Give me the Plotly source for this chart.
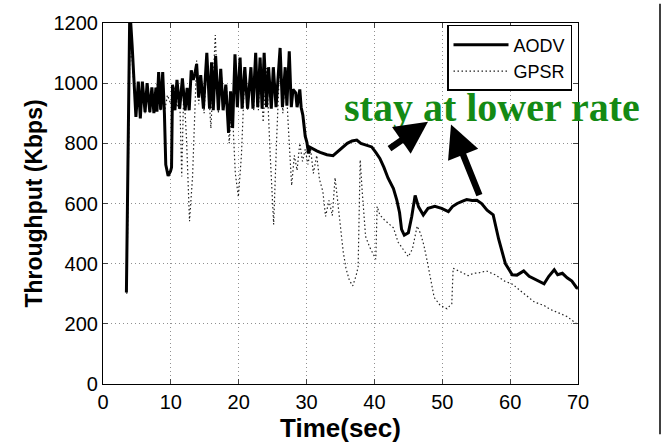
import plotly.graph_objects as go

# ---- data ----
aodv_t = [3.45, 3.95, 4.3, 4.85, 5.2, 5.5, 5.8, 6.2, 6.5, 6.9, 7.2, 7.5, 7.8, 7.95, 8.2, 8.5, 8.8, 9.05,
          9.25, 9.6, 9.95, 10.1, 10.25, 10.6, 10.9, 11.3, 11.7, 12.1, 12.4, 12.7, 13.0, 13.3, 13.55, 13.8,
          14.1, 14.4, 14.8, 15.3, 15.7, 16.0, 16.25, 16.6, 17.0, 17.35, 17.7, 18.1, 18.5, 18.8, 19.1,
          19.45, 19.8, 20.2, 20.5, 20.9, 21.3, 21.8, 22.1, 22.5, 22.8, 23.15, 23.45, 23.75, 24.1, 24.4,
          24.8, 25.1, 25.5, 25.8, 26.1, 26.45, 26.85, 27.1, 27.45, 27.75, 28.0, 28.4, 28.6, 29.0, 29.2,
          29.45, 29.8, 30.05, 30.3, 30.5, 31.0, 31.5, 32.0, 32.5, 33.0, 33.9, 34.5, 35.2, 36.0, 36.7,
          37.4, 38.0, 38.6, 39.2, 39.6, 40.2, 40.8, 41.4, 42.0, 42.8, 43.3, 43.7, 44.0, 44.4, 45.0,
          45.5, 46.0, 46.5, 47.2, 47.9, 48.9, 49.9, 50.9, 51.5, 52.2, 53.0, 53.6, 54.4, 55.1, 55.8,
          56.6, 57.5, 58.3, 59.3, 60.3, 61.0, 62.0, 62.8, 63.8, 65.0, 65.7, 66.5, 67.0, 67.7, 68.4,
          69.1, 69.8, 70.0]
aodv_v = [304, 1250, 1122, 888, 1005, 883, 1005, 904, 1000, 904, 986, 900, 985, 905, 1037, 912, 1037, 900,
          729, 692, 707, 720, 995, 910, 1011, 915, 1016, 910, 984, 910, 1043, 1011, 1032, 1064,
          952, 1027, 915, 1101, 915, 1069, 910, 1090, 910, 1048, 910, 995, 835, 973, 851,
          1096, 920, 1085, 915, 1053, 915, 1053, 915, 1101, 920, 1085, 915, 1101, 920, 1053,
          915, 1053, 920, 1037, 1117, 920, 1053, 925, 1106, 920, 979, 968, 920, 979, 920,
          894, 824, 803, 766, 787, 780, 775, 770, 765, 762, 759, 770, 785, 800, 808,
          811, 800, 795, 790, 788, 770, 750, 720, 685, 650, 611, 570, 514, 495, 503,
          557, 627, 589, 562, 584, 591, 584, 573, 590, 600, 608, 613, 610, 611, 600,
          578, 562, 482, 400, 363, 362, 376, 358, 347, 333, 358, 380, 363, 368, 353,
          342, 320, 318]

gpsr_t = [3.5, 3.95, 4.3, 4.85, 5.2, 5.5, 5.8, 6.2, 6.5, 6.9, 7.2, 7.5, 7.8, 8.2, 8.5, 8.8, 9.1, 9.5,
          10.0, 10.5, 10.9, 11.3, 11.6, 11.9, 12.3, 12.75, 13.2, 13.8, 14.1, 14.5, 14.9, 15.3, 15.9,
          16.55, 17.0, 17.4, 17.8, 18.2, 18.6, 19.0, 19.5, 19.95, 20.4, 20.9, 21.3, 21.8, 22.2, 22.5,
          22.9, 23.2, 23.6, 24.1, 24.6, 25.15, 25.6, 26.1, 26.5, 26.9, 27.3, 27.8, 28.2, 28.6, 29.0,
          29.4, 29.8, 30.2, 30.6, 31.0, 31.5, 31.9, 32.4, 32.8, 33.3, 33.8, 34.2, 34.6, 35.0, 35.4,
          35.8, 36.3, 36.8, 37.3, 37.6, 37.9, 38.2, 38.7, 39.3, 39.8, 40.2, 40.4, 40.8, 41.5, 42.2,
          42.8, 43.5, 44.2, 45.0, 45.6, 46.3, 46.8, 47.3, 47.8, 48.3, 48.8, 49.7, 50.7, 51.4, 51.6,
          52.6, 53.8, 54.6, 55.3, 56.5, 57.8, 59.2, 60.4, 61.5, 62.4, 63.6, 65.0, 65.9, 67.4, 68.4,
          69.8]
gpsr_v = [300, 1100, 1080, 890, 990, 890, 995, 900, 990, 900, 980, 900, 975, 1020, 910, 1025, 910, 960,
          930, 990, 920, 960, 690, 980, 820, 541, 690, 1075, 930, 1020, 900, 1080, 850,
          1160, 900, 1040, 920, 990, 800, 940, 700, 622, 760, 1040, 910, 1050, 910, 1090,
          910, 1080, 870, 1050, 780, 530, 820, 1100, 900, 1040, 860, 660, 760, 710, 800,
          740, 780, 730, 780, 700, 760, 680, 640, 557, 610, 560, 686, 600, 514, 440,
          385, 345, 326, 360, 390, 745, 640, 490, 455, 430, 415, 590, 562, 545, 530,
          519, 471, 449, 423, 449, 525, 500, 460, 406, 352, 288, 261, 250, 267, 385,
          374, 360, 368, 369, 376, 363, 342, 331, 310, 294, 272, 261, 248, 234, 224,
          200]

x_ticks = [0, 10, 20, 30, 40, 50, 60, 70]
y_ticks = [0, 200, 400, 600, 800, 1000, 1200]

# ---- pixel geometry helpers (plot area 103..578 x 20..393) ----
L, R, T, B = 103, 578, 20, 393
W, H = 671, 445


def px(x):
    return (x - L) / (R - L)


def py(y):
    return (B - y) / (B - T)


fig = go.Figure()
fig.add_trace(go.Scatter(x=gpsr_t, y=gpsr_v, mode="lines", name="GPSR",
                         line=dict(color="#222222", width=1.2, dash="1.5px,2.5px")))
fig.add_trace(go.Scatter(x=aodv_t, y=aodv_v, mode="lines", name="AODV",
                         line=dict(color="black", width=3)))

sans = "Liberation Sans, Arial, Helvetica, sans-serif"

fig.update_layout(
    width=W, height=H,
    margin=dict(l=L, r=W - R, t=T, b=H - B),
    paper_bgcolor="white", plot_bgcolor="white",
    font=dict(family=sans, color="black", size=20),
    legend=dict(x=px(572), y=py(22), xanchor="right", yanchor="top",
                bordercolor="black", borderwidth=1.5, bgcolor="white",
                font=dict(size=18, family=sans), traceorder="reversed",
                tracegroupgap=0, itemwidth=55),
    showlegend=True,
)

grid_kw = dict(showgrid=True, gridcolor="#909090", griddash="1px,3px", gridwidth=1)
fig.update_xaxes(range=[0, 70], tickvals=x_ticks, ticks="inside", ticklen=5,
                 showline=True, linecolor="black", linewidth=1.2, mirror="ticks",
                 zeroline=False, tickfont=dict(size=20), **grid_kw,
                 title=dict(text="<b>Time(sec)</b>", font=dict(size=26), standoff=2))
fig.update_yaxes(range=[0, 1200], tickvals=y_ticks, ticks="inside", ticklen=5,
                 showline=True, linecolor="black", linewidth=1.2, mirror="ticks",
                 zeroline=False, tickfont=dict(size=20), **grid_kw,
                 title=dict(text="<b>Throughput (Kbps)</b>", font=dict(size=23), standoff=4))

green = "#148a14"
fig.add_annotation(x=px(492), y=py(107), xref="paper", yref="paper",
                   text="<b>stay at lower rate</b>", showarrow=False,
                   font=dict(family="Liberation Serif, Times New Roman, serif", size=40, color=green),
                   xanchor="center", yanchor="middle", borderpad=0)

# arrows (head, tail in pixels)
for (hx, hy), (tx, ty) in [((428, 122), (388, 150)), ((451, 125), (480, 197))]:
    fig.add_annotation(x=px(hx), y=py(hy), xref="paper", yref="paper", text="",
                       showarrow=True, arrowhead=2, arrowsize=1, arrowwidth=6.5,
                       arrowcolor="black", ax=tx - hx, ay=ty - hy, standoff=0)

# right-hand frame line of the original figure
fig.add_shape(type="line", xref="paper", yref="paper",
              x0=px(660), x1=px(660), y0=py(445), y1=py(0),
              line=dict(color="black", width=1.5))

fig.write_html("out.html")
